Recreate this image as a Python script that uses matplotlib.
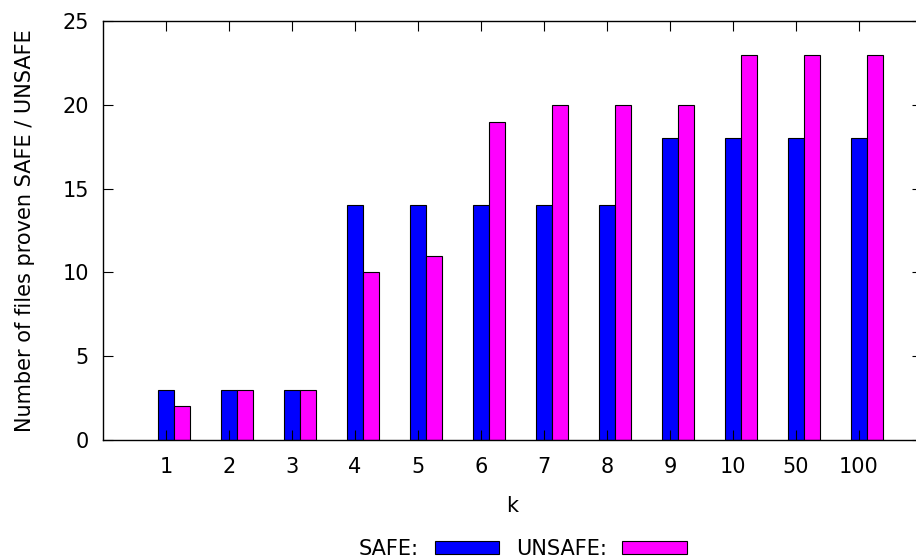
import matplotlib
matplotlib.use("Agg")

import numpy as np
import matplotlib.pyplot as plt
from matplotlib.patches import Patch

k_labels = ["1", "2", "3", "4", "5", "6", "7", "8", "9", "10", "50", "100"]
safe = [3, 3, 3, 14, 14, 14, 14, 14, 18, 18, 18, 18]
unsafe = [2, 3, 3, 10, 11, 19, 20, 20, 20, 23, 23, 23]

plt.rcParams["font.family"] = "DejaVu Sans"
plt.rcParams["font.size"] = 15

fig = plt.figure(figsize=(9.16, 5.58), dpi=100)
ax = fig.add_axes([103 / 916, 118 / 558, 819 / 916, 419 / 558])

x = np.arange(len(k_labels))
w = 0.25
# blue bar sits on the tick, magenta one just right of it
ax.bar(x, safe, w, color="#0000ff", edgecolor="black", linewidth=0.8)
ax.bar(x + w, unsafe, w, color="#ff00ff", edgecolor="black", linewidth=0.8)

ax.set_xlim(-1, 12)
ax.set_ylim(0, 25)
ax.set_xticks(x)
ax.set_xticklabels(k_labels)
ax.set_yticks(range(0, 26, 5))
ax.tick_params(direction="in", length=7, width=0.8, top=True, right=True)
ax.tick_params(axis="x", pad=12)
ax.tick_params(axis="y", pad=10)
for s in ax.spines.values():
	s.set_linewidth(1.0)

ax.set_xlabel("k", labelpad=14)
ax.set_ylabel("Number of files proven SAFE / UNSAFE", labelpad=20)

handles = [Patch(facecolor="#0000ff", edgecolor="black", linewidth=0.8),
	Patch(facecolor="#ff00ff", edgecolor="black", linewidth=0.8)]
fig.legend(handles, ["SAFE:", "UNSAFE:"], loc="center", bbox_to_anchor=(0.571, 0.016),
	ncol=2, frameon=False, markerfirst=False, handlelength=3.1, handleheight=0.55,
	columnspacing=0.8, handletextpad=0.75, borderpad=0)

fig.savefig("out.png", dpi=100)
